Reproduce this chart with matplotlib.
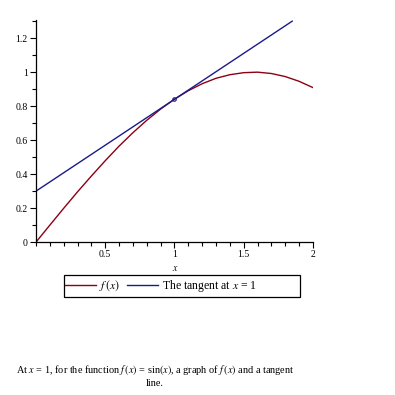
import matplotlib
matplotlib.use("Agg")
import matplotlib.pyplot as plt
from matplotlib.ticker import MultipleLocator, FixedFormatter, FixedLocator
from matplotlib.patches import Rectangle

plt.rcParams['font.family'] = ['Liberation Serif', 'DejaVu Serif']
plt.rcParams['mathtext.fontset'] = 'stix'

# f(x) = sin(x)
x_f = [0.0, 0.1, 0.2, 0.3, 0.4, 0.5, 0.6, 0.7, 0.8, 0.9, 1.0,
       1.1, 1.2, 1.3, 1.4, 1.5, 1.6, 1.7, 1.8, 1.9, 2.0]
y_f = [0.0, 0.100, 0.199, 0.296, 0.389, 0.479, 0.565, 0.644, 0.717, 0.783, 0.841,
       0.891, 0.932, 0.964, 0.985, 0.997, 1.000, 0.992, 0.974, 0.946, 0.909]
# tangent line endpoints
x_t = [0.0, 1.85]
y_t = [0.30, 1.30]
# point of tangency
x_p = [1.0]
y_p = [0.841]

xticks = [0.5, 1, 1.5, 2]
xticklabels = ["0.5", "1", "1.5", "2"]
yticks = [0, 0.2, 0.4, 0.6, 0.8, 1, 1.2]
yticklabels = ["0", "0.2", "0.4", "0.6", "0.8", "1", "1.2"]

red = "#8c0014"
blue = "#1a1a8c"

fig = plt.figure(figsize=(3.95, 3.95), dpi=100)
ax = fig.add_axes([0.0911, 0.387, 0.7013, 0.562])
l1, = ax.plot(x_f, y_f, color=red, lw=1.0)
l2, = ax.plot(x_t, y_t, color=blue, lw=1.0)
ax.plot(x_p, y_p, 'o', color=blue, ms=2.5, mfc='none', mew=0.8)

ax.set_xlim(0, 2)
ax.set_ylim(0, 1.306)
ax.spines['top'].set_visible(False)
ax.spines['right'].set_visible(False)
for s in ['left', 'bottom']:
    ax.spines[s].set_linewidth(0.9)

ax.xaxis.set_major_locator(FixedLocator(xticks))
ax.xaxis.set_major_formatter(FixedFormatter(xticklabels))
ax.yaxis.set_major_locator(FixedLocator(yticks))
ax.yaxis.set_major_formatter(FixedFormatter(yticklabels))
ax.xaxis.set_minor_locator(MultipleLocator(0.1))
ax.yaxis.set_minor_locator(MultipleLocator(0.1))
ax.tick_params(which='major', length=4, width=0.8, labelsize=7, pad=2)
ax.tick_params(which='minor', length=3, width=0.8)

fig.text(0.443, 0.321, "$x$", fontsize=7, ha='center', va='center')

# legend frame drawn as a rectangle, entries packed to the left
fig.patches.append(Rectangle((0.162, 0.248), 0.597, 0.056, transform=fig.transFigure,
                             fill=False, edgecolor='black', linewidth=0.9))
leg = fig.legend([l1, l2], ["$f\\,(x)$", "The tangent at $x$ = 1"],
                 loc='center left', bbox_to_anchor=(0.165, 0.276),
                 ncol=2, frameon=False, fontsize=8.5,
                 handlelength=2.6, handletextpad=0.3, columnspacing=0.6,
                 borderpad=0.0, borderaxespad=0)

fig.text(0.392, 0.063,
         "At $x$ = 1, for the function $f\\,(x)$ = sin$(x)$, a graph of $f\\,(x)$ and a tangent",
         fontsize=7.4, ha='center', va='center')
fig.text(0.392, 0.030, "line.", fontsize=7.4, ha='center', va='center')

fig.savefig("out.png", dpi=100)
